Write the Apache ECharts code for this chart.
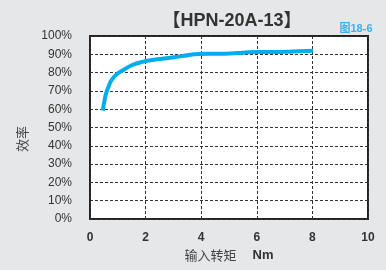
<!DOCTYPE html>
<html>
<head>
<meta charset="utf-8">
<script src="https://cdn.jsdelivr.net/npm/echarts@6/dist/echarts.min.js"></script>
<style>
html, body { margin: 0; padding: 0; background: #e6e7e8; }
#chart { width: 386px; height: 270px; }
</style>
</head>
<body>
<div id="chart"></div>
<script>
// torque (Nm) vs efficiency (%)
const torque = [0.46, 0.52, 0.58, 0.68, 0.78, 0.95, 1.2, 1.5, 1.92, 2.3, 2.76, 3.3, 3.96, 4.5, 5.04, 5.5, 6.0, 6.5, 7.07, 7.5, 8.03];
const efficiency = [59.2, 64.5, 68.7, 72.8, 76, 79, 81.4, 84, 86, 87, 87.8, 89, 90.2, 90.3, 90.5, 90.9, 91.3, 91.3, 91.4, 91.7, 92];
const xTicks = [0, 2, 4, 6, 8, 10];

const latin = 'Liberation Sans, Noto Sans CJK SC, sans-serif';
const cjk = 'Noto Sans CJK SC, sans-serif';

const chart = echarts.init(document.getElementById('chart'));

const option = {
    backgroundColor: '#e6e7e8',
    animation: false,
    title: [
        {
            text: '【HPN-20A-13】',
            left: 227,
            top: 7,
            textAlign: 'center',
            textStyle: { fontSize: 18, fontWeight: 'bold', color: '#333', fontFamily: latin }
        },
        {
            text: '图18-6',
            left: 351,
            top: 18,
            textAlign: 'center',
            textStyle: { fontSize: 11, fontWeight: 'bold', color: '#3fb0e8', fontFamily: latin }
        }
    ],
    graphic: [
        {
            type: 'text',
            x: 22,
            y: 139,
            rotation: Math.PI / 2,
            style: {
                text: '效率',
                font: '13px ' + cjk,
                fill: '#444',
                align: 'center',
                verticalAlign: 'middle'
            }
        }
    ],
    grid: {
        left: 90,
        right: 18,
        top: 36,
        bottom: 51,
        show: true,
        backgroundColor: '#fff',
        borderColor: '#222',
        borderWidth: 2
    },
    xAxis: {
        type: 'value',
        min: 0,
        max: 10,
        interval: 2,
        name: '{a|输入转矩}{s|}{b|Nm}',
        nameLocation: 'middle',
        nameGap: 30,
        nameTextStyle: {
            rich: {
                a: { fontSize: 13, color: '#444', fontFamily: cjk },
                s: { width: 16 },
                b: { fontSize: 13, color: '#333', fontWeight: 'bold', fontFamily: latin }
            }
        },
        axisLine: { show: false },
        axisTick: { show: false },
        axisLabel: {
            margin: 13,
            fontSize: 12,
            fontWeight: 'bold',
            color: '#333',
            fontFamily: latin,
            formatter: v => xTicks.includes(v) ? String(v) : ''
        },
        splitLine: { lineStyle: { type: [3, 2], color: '#333', width: 1 } }
    },
    yAxis: {
        type: 'value',
        min: 0,
        max: 100,
        interval: 10,
        axisLine: { show: false },
        axisTick: { show: false },
        axisLabel: {
            margin: 18,
            fontSize: 12,
            color: '#333',
            fontFamily: latin,
            formatter: '{value}%'
        },
        splitLine: { lineStyle: { type: [3, 2], color: '#333', width: 1 } }
    },
    series: [
        {
            type: 'line',
            data: torque.map((t, i) => [t, efficiency[i]]),
            smooth: true,
            showSymbol: false,
            lineStyle: { color: '#00aeef', width: 4 }
        }
    ]
};

chart.setOption(option);
</script>
</body>
</html>
